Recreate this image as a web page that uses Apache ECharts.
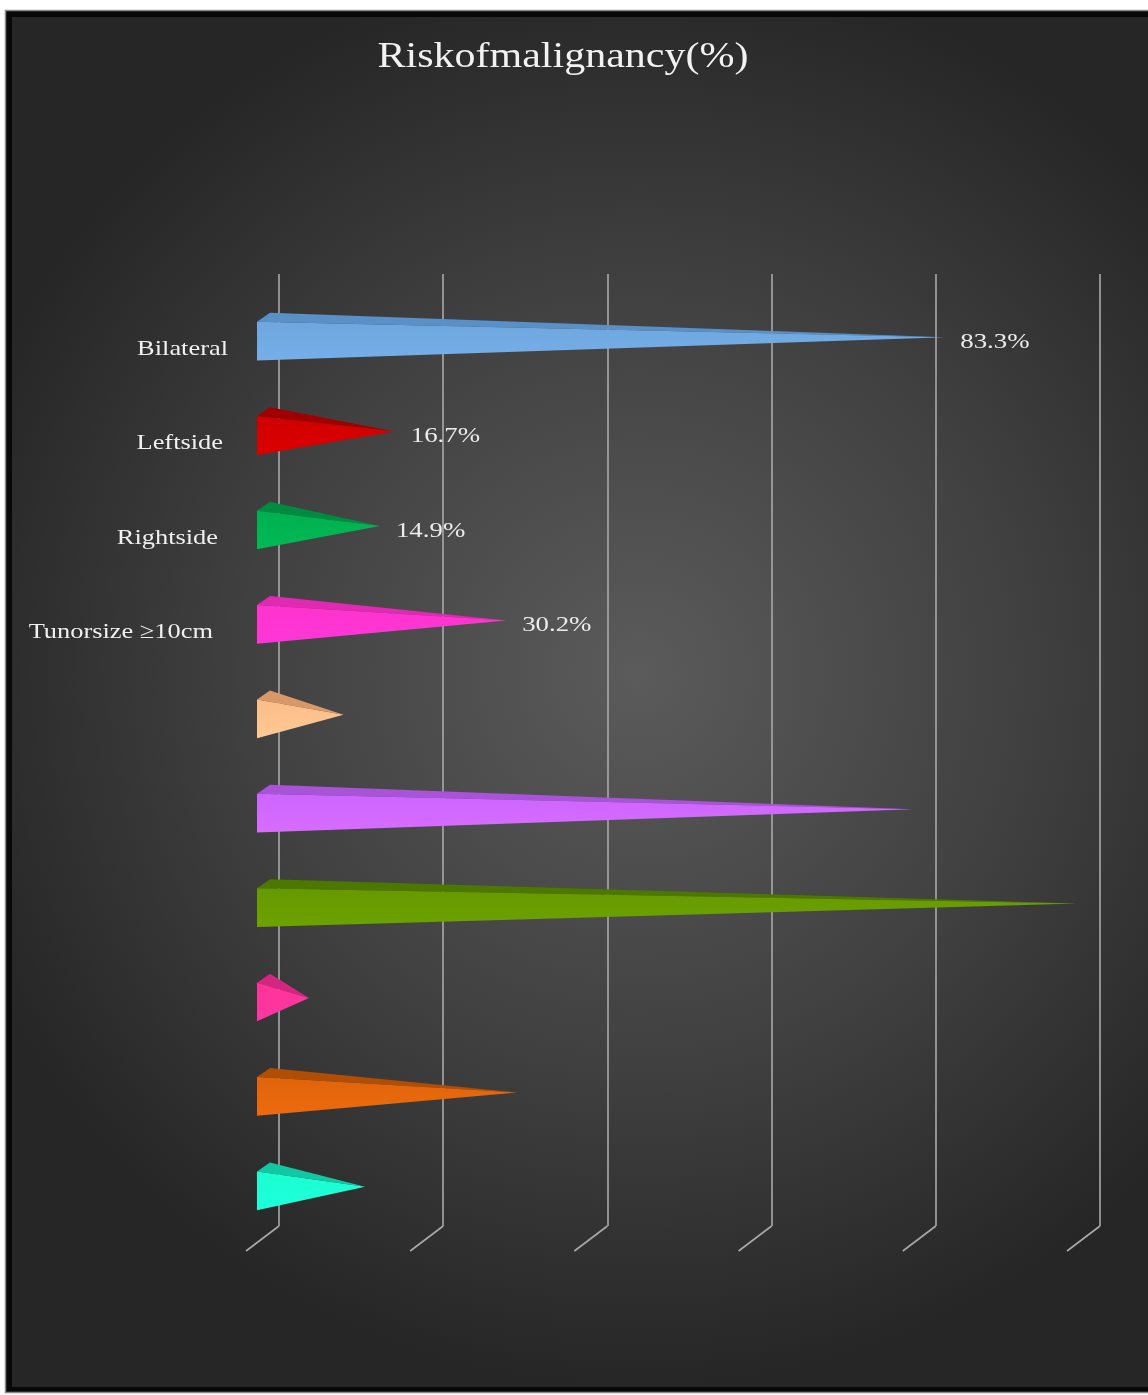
<!DOCTYPE html>
<html>
<head>
<meta charset="utf-8">
<script src="https://cdn.jsdelivr.net/npm/echarts@6/dist/echarts.min.js"></script>
<style>
html,body{margin:0;padding:0;background:#fff;}
#c{width:1148px;height:1395px;}
</style>
</head>
<body>
<div id="c"></div>
<script>
const titleText = 'Riskofmalignancy(%)';
const categories = ['Bilateral', 'Leftside', 'Rightside', 'Tunorsize \u226510cm', '', '', '', '', '', ''];
const values = [83.3, 16.7, 14.9, 30.2, 10.5, 79.4, 99.4, 6.3, 31.5, 13.1];
const valueLabels = ['83.3%', '16.7%', '14.9%', '30.2%', '', '', '', '', '', ''];
const xTicks = [0, 20, 40, 60, 80, 100];
const frontColors = ['#6fa6dd', '#d00000', '#00b050', '#ff33cc', '#fbbd8a', '#cc66ff', '#669900', '#ff3399', '#e0640c', '#1cffd0'];
const topColors = ['#5a90c8', '#a00000', '#008c40', '#e02ab4', '#d99868', '#a953d9', '#4d7800', '#d42680', '#b04e06', '#12c8a4'];

const FONT = '"Liberation Serif", "DejaVu Serif", serif';

const chart = echarts.init(document.getElementById('c'), null, {renderer: 'canvas'});

const option = {
  backgroundColor: '#ffffff',
  animation: false,
  graphic: [
    {
      type: 'rect', z: -100, silent: true,
      shape: {x: 5, y: 10, width: 1150, height: 1383},
      style: {
        fill: {
          type: 'radial', x: 0.55, y: 0.48, r: 0.62,
          colorStops: [{offset: 0, color: '#5b5b5b'}, {offset: 0.55, color: '#404040'}, {offset: 1, color: '#262626'}]
        }
      }
    },
    {
      type: 'rect', z: -99, silent: true,
      shape: {x: 9, y: 14, width: 1150, height: 1376},
      style: {fill: 'none', stroke: '#080808', lineWidth: 6}
    },
    {
      type: 'rect', z: -98, silent: true,
      shape: {x: 5.5, y: 10.5, width: 1150, height: 1382},
      style: {fill: 'none', stroke: '#8a8a8a', lineWidth: 1.5}
    },
    {
      type: 'text', z: 10, silent: true,
      x: 563, y: 58, scaleX: 1.2, scaleY: 1,
      style: {
        text: titleText, x: 0, y: 0, align: 'center', verticalAlign: 'middle',
        fill: '#f2f2f2', font: '35px ' + FONT
      }
    }
  ],
  grid: [
    {left: 257, right: 66, top: 294, height: 944},
    {left: 279, right: 48, top: 274, height: 952}
  ],
  xAxis: [
    {gridIndex: 0, type: 'value', min: 0, max: 100, interval: 20, show: false},
    {
      gridIndex: 1, type: 'value', min: 0, max: 100, interval: 20,
      axisLine: {show: false}, axisTick: {show: false}, axisLabel: {show: false},
      splitLine: {show: true, lineStyle: {color: '#a9a9a9', width: 1.6}}
    }
  ],
  yAxis: [
    {gridIndex: 0, type: 'category', data: categories, inverse: true, show: false},
    {gridIndex: 1, type: 'value', min: 0, max: 1, show: false}
  ],
  series: [
    {
      type: 'custom', xAxisIndex: 1, yAxisIndex: 1, z: 1, silent: true,
      data: xTicks.map(v => [v, 0]),
      renderItem: function (params, api) {
        const p = api.coord([api.value(0), 0]);
        return {
          type: 'line',
          shape: {x1: p[0], y1: p[1], x2: p[0] - 33, y2: p[1] + 25},
          style: {stroke: '#a9a9a9', lineWidth: 1.6}
        };
      }
    },
    {
      type: 'custom', xAxisIndex: 0, yAxisIndex: 0, z: 5, silent: true,
      data: values.map((v, i) => [v, i]),
      renderItem: function (params, api) {
        const v = api.value(0);
        const i = api.value(1);
        const base = api.coord([0, i]);
        const tip = api.coord([v, i]);
        const h = api.size([0, 1])[1] * 0.41;
        const x0 = base[0], c = base[1];
        const ty = c - 4;
        const children = [
          {
            type: 'polygon',
            shape: {points: [[x0, c - h / 2], [x0 + 13, c - h / 2 - 9], [tip[0], ty]]},
            style: {fill: topColors[i]}
          },
          {
            type: 'polygon',
            shape: {points: [[x0, c - h / 2], [x0, c + h / 2], [tip[0], ty]]},
            style: {
              fill: {
                type: 'linear', x: 0, y: 0, x2: 0, y2: 1,
                colorStops: [
                  {offset: 0, color: frontColors[i]},
                  {offset: 1, color: echarts.color.lift(frontColors[i], -0.06)}
                ]
              }
            }
          }
        ];
        if (categories[i]) {
          children.push({
            type: 'text',
            x: x0 - 29 - 5 * i, y: c + 8, scaleX: 1.2, scaleY: 1,
            style: {
              text: categories[i], x: 0, y: 0,
              align: 'right', verticalAlign: 'middle',
              fill: '#f0f0f0', font: '22px ' + FONT
            }
          });
        }
        if (valueLabels[i]) {
          children.push({
            type: 'text',
            x: tip[0] + 16, y: c + 1, scaleX: 1.22, scaleY: 1,
            style: {
              text: valueLabels[i], x: 0, y: 0,
              align: 'left', verticalAlign: 'middle',
              fill: '#ececec', font: '22px ' + FONT
            }
          });
        }
        return {type: 'group', children: children};
      }
    }
  ]
};
chart.setOption(option);
</script>
</body>
</html>
